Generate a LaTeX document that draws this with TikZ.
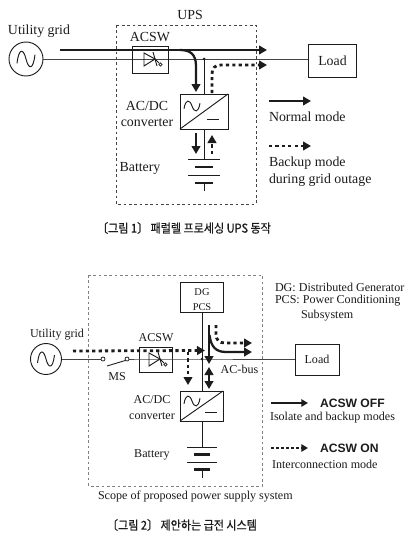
\documentclass[tikz,border=0pt]{standalone}
\usepackage{fontspec}
\setmainfont{Liberation Serif}
\setsansfont{Liberation Sans}
\newfontfamily\cjk[FakeBold=0.6]{Noto Sans CJK KR}
\usetikzlibrary{arrows.meta,calc}
\definecolor{ink}{HTML}{1C1C1C}
\definecolor{thin}{HTML}{444444}
\tikzset{
  x=0.75pt,y=-0.75pt,
  every node/.style={text=ink,inner sep=0pt,outer sep=0pt},
  boxa/.style={draw=ink,line width=0.7pt,fill=white},
  wire/.style={draw=ink,line width=0.7pt},
  graywire/.style={draw=thin,line width=0.65pt},
  thick arrow/.style={draw=ink,line width=1.7pt,-{Triangle[length=6pt,width=6.5pt]}},
  dot arrow/.style={draw=ink,line width=2.1pt,dash pattern=on 2.4pt off 2.4pt,-{Triangle[length=6pt,width=6.5pt]}},
  scopebox/.style={draw=thin,line width=0.55pt,dash pattern=on 2pt off 2pt},
  lab a/.style={font=\fontsize{10.4pt}{12pt}\selectfont},
  lab b/.style={font=\fontsize{9.05pt}{11pt}\selectfont},
  captext/.style={font=\cjk\fontsize{9.2pt}{11pt}\selectfont,xscale=0.9,transform shape},
  acsw lab/.style={font=\sffamily\bfseries\fontsize{9.1pt}{10pt}\selectfont,anchor=west},
}
% #1 x, #2 y, #3 half width, #4 height of swing
\newcommand{\tildeglyph}[4]{\draw[ink,line width=0.7pt] (#1-#3,#2+0.4*#4) .. controls (#1-0.8*#3,#2-#4) and (#1-0.3*#3,#2-#4) .. (#1,#2) .. controls (#1+0.3*#3,#2+#4) and (#1+0.8*#3,#2+#4) .. (#1+#3,#2-0.4*#4);}
\newcommand{\thyr}[2]{%
  \draw[ink,line width=0.7pt] (#1-6,#2-6) -- (#1-6,#2+7) -- (#1+5,#2) -- cycle;
  \draw[ink,line width=0.7pt] (#1+3,#2-7) -- (#1+7,#2+7);
  \draw[ink,line width=0.7pt] (#1+5,#2) -- (#1+9,#2+4);
  \draw[ink,line width=0.6pt,fill=white] (#1+10.5,#2+5.5) circle (1.6);}
\newcommand{\conv}[5]{% name, x1,y1,x2,y2
  \node[boxa,anchor=north west,minimum width=#4*0.75pt-#2*0.75pt,minimum height=#5*0.75pt-#3*0.75pt] (#1) at (#2,#3) {};
  \draw[ink,line width=0.7pt] (#1.south west) -- (#1.north east);}
\newcommand{\batt}[6]{% x, y1, long half, short half, gap, name
  \coordinate (#6) at (#1,#2);
  \draw[ink,line width=0.7pt] (#1-#3,#2) -- (#1+#3,#2);
  \draw[ink,line width=1.6pt] (#1-#4,#2+#5) -- (#1+#4,#2+#5);
  \draw[ink,line width=0.7pt] (#1-#3,#2+2*#5) -- (#1+#3,#2+2*#5);
  \draw[ink,line width=1.6pt] (#1-#4,#2+3*#5) -- (#1+#4,#2+3*#5);
  \draw[ink,line width=0.7pt] (#1,#2+3*#5) -- (#1,#2+3*#5+8);}
\begin{document}
\begin{tikzpicture}
\useasboundingbox[fill=white] (0,0) rectangle (409,546);

%% ---------- top figure ----------
\draw[scopebox] (116,25) rectangle (256,204);
\node[lab a] at (190,15) {UPS};
\node[lab a] at (39,31) {Utility grid};
\node[draw=ink,line width=0.7pt,circle,minimum size=25.5pt] (src1) at (26,59) {};
\tildeglyph{26}{59}{9}{11}
\node[boxa,minimum width=36.5pt,minimum height=24.7pt] (load1) at (332.5,60.5) {};
\node[lab a] at (load1) {Load};
\draw[graywire] (src1.east) -- (load1.west |- src1.east);
\node[boxa,fill=none,minimum width=27pt,minimum height=20.25pt] (acsw1) at (150,59.5) {};
\node[lab a] at (150,37) {ACSW};
\thyr{150}{59}
\conv{conv1}{180}{94}{228}{129}
\tildeglyph{192}{106}{8}{7}
\draw[ink,line width=0.7pt] (207,119) -- (219,119);
\draw[wire] (204,59) -- (204,94);
\fill[ink] (204,59) circle (1.5);
\coordinate (t1s) at (60,50);
\coordinate (t1e) at (267,50);
\draw[thick arrow] (t1s) -- (t1e);
\coordinate (t2s) at (180,50);
\coordinate (t2e) at (196,92);
\draw[thick arrow] (t2s) .. controls (190,50) and (196,54) .. (196,66) -- (t2e);
\coordinate (d1s) at (212,93);
\coordinate (d1e) at (267,65);
\draw[dot arrow] (d1s) -- (212,74) .. controls (212,68) and (215,65) .. (221,65) -- (d1e);
\draw[wire] (204,129) -- (204,159);
\batt{204}{159}{16}{9}{8}{b1}
\draw[thick arrow] (196,133) -- (196,154);
\draw[dot arrow] (212,154) -- (212,135);
\node[lab a,align=center] at (147,114) {AC/DC\\[0.5pt]converter};
\node[lab a] at (140,168) {Battery};
\coordinate (l1a) at (269,101);
\coordinate (l1b) at (311,101);
\draw[thick arrow] (l1a) -- (l1b);
\node[lab a,anchor=west] at (269,117) {Normal mode};
\coordinate (l2a) at (269,146);
\coordinate (l2b) at (311,146);
\draw[dot arrow] (l2a) -- (l2b);
\node[lab a,anchor=west] at (269,163) {Backup mode};
\node[lab a,anchor=west] at (269,180) {during grid outage};
\node[captext] at (184,228) {〔그림 1〕 패럴렐 프로세싱 UPS 동작};

%% ---------- bottom figure ----------
\draw[scopebox,draw=gray] (88.5,275) rectangle (262.5,486);
\node[lab b] at (57,335) {Utility grid};
\node[draw=ink,line width=0.7pt,circle,minimum size=23.25pt] (src2) at (46,359) {};
\tildeglyph{46}{359}{8.5}{10}
\node[boxa,minimum width=33pt,minimum height=23.25pt] (load2) at (317,359.5) {};
\node[lab b] at (load2) {Load};
\node[draw=ink,line width=0.55pt,circle,fill=white,minimum size=3pt] (ms1) at (103,359) {};
\node[draw=ink,line width=0.55pt,circle,fill=white,minimum size=3pt] (ms2) at (127,359) {};
\draw[graywire] (src2.east) -- (ms1.west);
\draw[ink,line width=0.65pt] (107,366) -- (ms2.south west);
\node[lab b] at (117,377) {MS};
\node[boxa,fill=none,minimum width=24.75pt,minimum height=18.75pt] (acsw2) at (155.5,359.5) {};
\coordinate (busA) at (139,359);
\coordinate (busB) at (172,359);
\draw[graywire] (ms2.east) -- (busA) -- (busB) -- (load2.west |- busB);
\node[lab b] at (156,338) {ACSW};
\thyr{155}{359}
\node[boxa,minimum width=32.25pt,minimum height=22.5pt] (dg) at (201.5,297) {};
\node[font=\fontsize{7.8pt}{9pt}\selectfont] at (202,292) {DG};
\node[font=\fontsize{7.8pt}{9pt}\selectfont] at (202,307) {PCS};
\conv{conv2}{180}{391}{223}{421}
\tildeglyph{192}{401}{8}{7}
\draw[ink,line width=0.7pt] (205,412) -- (217,412);
\draw[wire] (202,312) -- (202,391);
\fill[ink] (202,359) circle (1.4);
\draw[wire] (202,421) -- (202,447);
\batt{202}{447}{15}{8}{7.5}{b2}
\coordinate (d2s) at (73,351);
\coordinate (d2e) at (205,350.5);
\draw[dot arrow] (d2s) -- (d2e);
\coordinate (d3s) at (188,352);
\coordinate (d3e) at (188,385);
\draw[dot arrow] (d3s) -- (d3e);
\coordinate (t3s) at (209,325);
\coordinate (t3d) at (209,364);
\coordinate (t3e) at (252,352);
\draw[thick arrow] (t3s) -- (t3d);
\draw[thick arrow] (209.5,335) .. controls (211,347) and (216,352) .. (226,352) -- (t3e);
\draw[draw=ink,line width=1.7pt,{Triangle[length=6pt,width=6.5pt]}-{Triangle[length=6pt,width=6.5pt]}] (209,367) -- (209,389);
\coordinate (d4s) at (216,325);
\coordinate (d4e) at (252,343);
\draw[dot arrow] (d4s) -- (216,334) .. controls (216,340) and (219,343) .. (225,343) -- (d4e);
\node[lab b] at (239.5,369) {AC-bus};
\node[lab b,align=center] at (152,407.5) {AC/DC\\[0.5pt]converter};
\node[lab b] at (152,455) {Battery};
\node[lab b,anchor=west] at (275,287) {DG: Distributed Generator};
\node[lab b,anchor=west] at (275,301) {PCS: Power Conditioning};
\node[lab b,anchor=west] at (301,316) {Subsystem};
\coordinate (l3a) at (271,403);
\coordinate (l3b) at (308,403);
\draw[draw=ink,line width=1.2pt,-{Triangle[length=5pt,width=5.5pt]}] (l3a) -- (l3b);
\node[acsw lab] at (320,403) {ACSW OFF};
\node[lab b,anchor=west] at (270,418) {Isolate and backup modes};
\coordinate (l4a) at (271,448);
\coordinate (l4b) at (308,448);
\draw[draw=ink,line width=1.4pt,dash pattern=on 1.9pt off 1.9pt,-{Triangle[length=5pt,width=5.5pt]}] (l4a) -- (l4b);
\node[acsw lab] at (320,448) {ACSW ON};
\node[lab b,anchor=west] at (272,464) {Interconnection mode};
\node[lab b,anchor=west] at (98,497) {Scope of proposed power supply system};
\node[captext] at (182,525) {〔그림 2〕 제안하는 급전 시스템};
\end{tikzpicture}
\end{document}
